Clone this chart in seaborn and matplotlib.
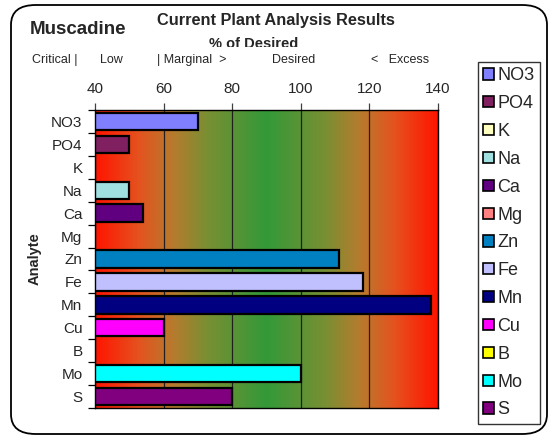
import seaborn as sns
import matplotlib.pyplot as plt
import numpy as np
import pandas as pd
from matplotlib.colors import LinearSegmentedColormap
from matplotlib.patches import FancyBboxPatch, Patch, Rectangle

sns.set_theme(style="white")
plt.rcParams["font.family"] = ["Liberation Sans", "DejaVu Sans"]

# data (% of desired)
analytes = ["NO3", "PO4", "K", "Na", "Ca", "Mg", "Zn", "Fe", "Mn", "Cu", "B", "Mo", "S"]
values = [70, 50, np.nan, 50, 54, np.nan, 111, 118, 138, 60, np.nan, 100, 80]
colors = ["#8080FF", "#802060", "#FFFFC0", "#A0E0E0", "#600080", "#FF8080",
          "#0080C0", "#C0C0FF", "#000080", "#FF00FF", "#FFFF00", "#00FFFF", "#800080"]
x_ticks = [40, 60, 80, 100, 120, 140]
range_labels = ["Critical |", "Low", "| Marginal  >", "Desired", "<   Excess"]
range_x = [32, 100, 157, 272, 371]

df = pd.DataFrame({"Analyte": analytes, "Value": values})

fig = plt.figure(figsize=(5.51, 4.38), dpi=100)
W, H = 551, 438

# outer rounded frame
frame = FancyBboxPatch((11 / W, 4 / H), 536 / W, 429 / H,
                       boxstyle="round,pad=0,rounding_size=0.045",
                       transform=fig.transFigure, facecolor="none",
                       edgecolor="black", linewidth=1.3, zorder=0)
fig.patches.append(frame)

ax = fig.add_axes([95 / W, (H - 408) / H, 343 / W, 298 / H])
ax.set_zorder(1)

sns.barplot(data=df, y="Analyte", x="Value", hue="Analyte", palette=colors,
            order=analytes, hue_order=analytes, orient="h", legend=False,
            saturation=1, edgecolor="black", linewidth=1.6, width=0.76,
            ax=ax, zorder=2)

# red -> green -> red background band
cmap = LinearSegmentedColormap.from_list("band", [
    (0.0, (1.0, 0.08, 0.0)),
    (0.25, (0.90, 0.32, 0.12)),
    (0.45, (0.72, 0.48, 0.18)),
    (0.65, (0.48, 0.56, 0.20)),
    (1.0, (0.20, 0.60, 0.22)),
])
xs = np.linspace(40, 140, 400)
dist = 1 - np.abs(xs - 90) / 50
ax.imshow(dist[np.newaxis, :], extent=[40, 140, 12.5, -0.5], aspect="auto",
          cmap=cmap, vmin=0, vmax=1, zorder=0, interpolation="bilinear")

ax.set_xlim(40, 140)
ax.set_ylim(12.5, -0.5)
ax.set_xticks(x_ticks)
ax.xaxis.tick_top()
ax.set_xlabel("")
ax.grid(axis="x", color="#202020", linewidth=0.9)
ax.set_axisbelow(True)
for g in ax.get_xgridlines():
    g.set_zorder(1)
ax.tick_params(axis="x", which="major", direction="out", length=5, width=0.9,
               color="#404040", labelsize=11, pad=5, top=True, bottom=False)
ax.set_yticks(range(len(analytes)))
ax.set_yticklabels(analytes)
ax.set_yticks(np.arange(-0.5, len(analytes), 1), minor=True)
ax.tick_params(axis="y", which="major", length=0, labelsize=11, pad=9)
ax.tick_params(axis="y", which="minor", direction="out", length=5, width=0.9,
               color="black", left=True)
ax.set_ylabel("Analyte", fontsize=10.5, fontweight="bold", labelpad=7)
for s in ax.spines.values():
    s.set_color("black")
    s.set_linewidth(1.0)

# titles
fig.text(30 / W, 1 - 30 / H, "Muscadine", fontsize=13.5, fontweight="bold",
         va="center", ha="left")
fig.text(276 / W, 1 - 21 / H, "Current Plant Analysis Results", fontsize=11.8,
         fontweight="bold", va="center", ha="center")
fig.text(254 / W, 1 - 44 / H, "% of Desired", fontsize=10.5,
         fontweight="bold", va="center", ha="center", zorder=3)
# the subtitle is cut off at its bottom in the original
fig.patches.append(Rectangle((205 / W, 1 - 52 / H), 105 / W, 4.5 / H,
                             transform=fig.transFigure, facecolor="white",
                             edgecolor="none", zorder=4))
for lab, xp in zip(range_labels, range_x):
    fig.text(xp / W, 1 - 60 / H, lab, fontsize=9, va="center", ha="left", zorder=5)

# legend
handles = [Patch(facecolor=c, edgecolor="black", linewidth=1.2, label=a)
           for a, c in zip(analytes, colors)]
leg = fig.legend(handles=handles, loc="upper left",
                 bbox_to_anchor=(478 / W, 1 - 62 / H), frameon=True,
                 fancybox=False, fontsize=13, handlelength=0.58,
                 handleheight=0.58, handletextpad=0.2, labelspacing=0.6,
                 borderpad=0.3, borderaxespad=0)
leg.get_frame().set_edgecolor("black")
leg.get_frame().set_linewidth(1.0)

fig.savefig("out.png", dpi=100)
